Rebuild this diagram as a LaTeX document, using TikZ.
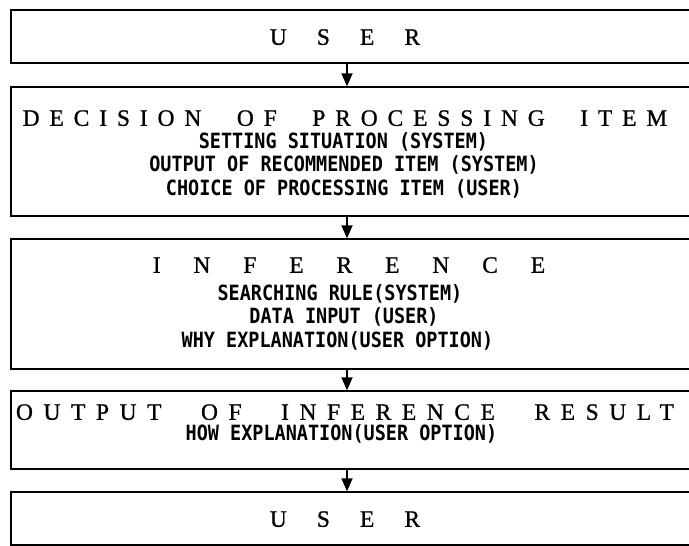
\documentclass[tikz,border=0pt]{standalone}
\usepackage{fontspec}
\usetikzlibrary{arrows.meta}
\newfontfamily\ttl[FakeBold=0.8]{Liberation Serif}
\newfontfamily\subf[FakeStretch=0.88]{DejaVu Sans Mono}
\newcommand\lsp[2]{{\addfontfeature{LetterSpace=#1}#2}}
\newcommand\wgap{\hspace{35.5pt}}
\newcommand\wgapb{\hspace{39.5pt}}
\tikzset{
  box/.style={draw, line width=1.4pt, inner sep=0pt, minimum width=679pt},
  ttlw/.style={font=\ttl\fontsize{23.5}{23.5}\selectfont, inner sep=0pt, text height=15.6pt, text depth=0pt},
  sub/.style={font=\subf\bfseries\fontsize{21}{21}\selectfont, inner sep=0pt, text height=15.3pt, text depth=0pt},
  arr/.style={line width=1.8pt, -{Triangle[width=11pt,length=13pt]}}
}
\begin{document}
\begin{tikzpicture}[x=1pt,y=-1pt]
\useasboundingbox (0,0) rectangle (689,546);
\clip (0,0) rectangle (689,546);
% boxes
\node[box, minimum height=53pt]  (b1) at (350.5,36.5) {};
\node[box, minimum height=129pt] (b2) at (350.5,151.5) {};
\node[box, minimum height=130pt] (b3) at (350.5,304) {};
\node[box, minimum height=78pt]  (b4) at (350.5,430) {};
\node[box, minimum height=53pt]  (b5) at (350.5,518.5) {};
% texts
\node[ttlw] (u1) at (345,37) {\lsp{128}{USER}\hspace{-30pt}};
\node[ttlw] (d0) at (345,118) {\lsp{42}{DECISION}\wgap\lsp{42}{OF}\wgap\lsp{42}{PROCESSING}\wgap\lsp{42}{ITEM}\hspace{-9.9pt}};
\node[sub] (d1) at (343.5,141) {SETTING SITUATION (SYSTEM)};
\node[sub] (d2) at (344,164) {OUTPUT OF RECOMMENDED ITEM (SYSTEM)};
\node[sub] (d3) at (344,188) {CHOICE OF PROCESSING ITEM (USER)};
\node[ttlw] (i0) at (349,265) {\lsp{140}{INFERENCE}\hspace{-33pt}};
\node[sub] (i1) at (340,293) {SEARCHING RULE(SYSTEM)};
\node[sub] (i2) at (344,316) {DATA INPUT (USER)};
\node[sub] (i3) at (337.5,340) {WHY EXPLANATION(USER OPTION)};
\node[ttlw] (o0) at (345,412) {\lsp{45}{OUTPUT}\wgapb\lsp{45}{OF}\wgapb\lsp{45}{INFERENCE}\wgapb\lsp{45}{RESULT}\hspace{-10.6pt}};
\node[sub] (o1) at (341.5,433) {HOW EXPLANATION(USER OPTION)};
\node[ttlw] (u2) at (345,519) {\lsp{128}{USER}\hspace{-30pt}};
% arrows
\coordinate (ax) at (347,0);
\draw[arr] (ax |- b1.south) -- (ax |- b2.north);
\draw[arr] (ax |- b2.south) -- (ax |- b3.north);
\draw[arr] (ax |- b3.south) -- (ax |- b4.north);
\draw[arr] (ax |- b4.south) -- (ax |- b5.north);
\end{tikzpicture}
\end{document}
